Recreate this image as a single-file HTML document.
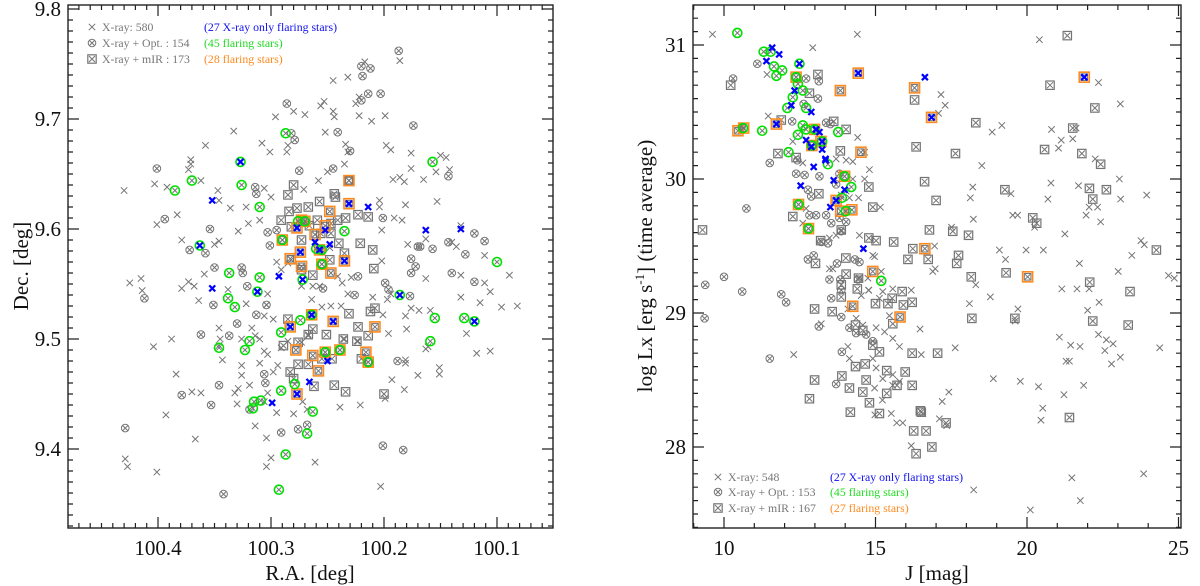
<!DOCTYPE html>
<html><head><meta charset="utf-8"><style>
html,body{margin:0;padding:0;background:#fff;}
svg{display:block;font-family:"Liberation Serif",serif;}
</style></head><body>
<svg id="fig" width="1200" height="586" viewBox="0 0 1200 586" xmlns="http://www.w3.org/2000/svg"></svg>
<script>
// ---------- LEFT PANEL DATA (R.A., Dec) ----------
const leftXray = [[100.245,9.735],[100.232,9.738],[100.217,9.752],[100.186,9.753],[100.253,9.716],[100.256,9.712],[100.222,9.720],[100.225,9.714],[100.296,9.702],[100.280,9.707],[100.270,9.704],[100.245,9.707],[100.244,9.702],[100.222,9.703],[100.211,9.698],[100.199,9.703],[100.333,9.689],[100.252,9.688],[100.308,9.678],[100.358,9.676],[100.301,9.670],[100.286,9.670],[100.285,9.676],[100.234,9.677],[100.232,9.670],[100.198,9.676],[100.194,9.672],[100.176,9.669],[100.371,9.663],[100.371,9.659],[100.373,9.654],[100.362,9.644],[100.403,9.641],[100.392,9.638],[100.430,9.635],[100.347,9.635],[100.346,9.626],[100.336,9.619],[100.322,9.620],[100.306,9.637],[100.300,9.629],[100.271,9.636],[100.258,9.644],[100.250,9.652],[100.235,9.659],[100.192,9.645],[100.186,9.647],[100.182,9.643],[100.176,9.655],[100.165,9.645],[100.154,9.652],[100.142,9.654],[100.150,9.667],[100.145,9.665],[100.153,9.625],[100.181,9.622],[100.204,9.626],[100.204,9.620],[100.191,9.610],[100.184,9.608],[100.202,9.599],[100.132,9.603],[100.401,9.604],[100.383,9.613],[100.320,9.605],[100.310,9.608],[100.329,9.598],[100.379,9.590],[100.346,9.589],[100.350,9.586],[100.359,9.559],[100.373,9.552],[100.368,9.548],[100.379,9.546],[100.425,9.551],[100.415,9.555],[100.414,9.544],[100.364,9.535],[100.338,9.545],[100.322,9.532],[100.303,9.541],[100.304,9.531],[100.298,9.518],[100.306,9.521],[100.346,9.510],[100.345,9.500],[100.346,9.494],[100.326,9.500],[100.317,9.510],[100.314,9.503],[100.310,9.500],[100.388,9.500],[100.404,9.493],[100.343,9.481],[100.326,9.476],[100.326,9.467],[100.319,9.458],[100.332,9.451],[100.329,9.455],[100.384,9.468],[100.370,9.452],[100.362,9.451],[100.393,9.431],[100.367,9.409],[100.429,9.391],[100.427,9.384],[100.401,9.379],[100.330,9.441],[100.314,9.421],[100.304,9.410],[100.300,9.392],[100.304,9.384],[100.295,9.433],[100.280,9.432],[100.272,9.443],[100.268,9.436],[100.261,9.388],[100.303,9.451],[100.294,9.476],[100.298,9.470],[100.310,9.478],[100.306,9.443],[100.203,9.366],[100.239,9.438],[100.221,9.440],[100.199,9.446],[100.182,9.454],[100.193,9.463],[100.170,9.467],[100.151,9.474],[100.151,9.468],[100.181,9.481],[100.181,9.478],[100.163,9.491],[100.161,9.493],[100.196,9.505],[100.180,9.509],[100.181,9.521],[100.127,9.505],[100.118,9.487],[100.106,9.489],[100.115,9.533],[100.106,9.543],[100.096,9.529],[100.082,9.530],[100.089,9.558],[100.111,9.551],[100.111,9.576],[100.132,9.558],[100.132,9.538],[100.136,9.584],[100.140,9.588],[100.163,9.555],[100.163,9.591],[100.179,9.586],[100.202,9.571],[100.201,9.522],[100.210,9.538],[100.197,9.536],[100.194,9.541],[100.176,9.528],[100.169,9.526],[100.159,9.526],[100.232,9.541],[100.238,9.530],[100.247,9.530],[100.241,9.557],[100.229,9.556],[100.237,9.551],[100.273,9.548],[100.263,9.548],[100.257,9.548],[100.264,9.536],[100.255,9.529],[100.248,9.583],[100.295,9.570],[100.291,9.563],[100.285,9.569],[100.303,9.486],[100.306,9.489],[100.291,9.492],[100.285,9.498],[100.273,9.497],[100.267,9.503],[100.235,9.500],[100.223,9.498]];
const leftOpt = [[100.187,9.762],[100.220,9.748],[100.212,9.746],[100.219,9.739],[100.214,9.723],[100.203,9.723],[100.220,9.717],[100.286,9.714],[100.174,9.694],[100.241,9.688],[100.282,9.687],[100.279,9.681],[100.230,9.671],[100.275,9.653],[100.245,9.655],[100.401,9.655],[100.314,9.638],[100.313,9.632],[100.394,9.609],[100.354,9.600],[100.303,9.597],[100.295,9.599],[100.301,9.585],[100.201,9.610],[100.120,9.596],[100.111,9.589],[100.143,9.588],[100.128,9.577],[100.157,9.582],[100.168,9.584],[100.176,9.573],[100.172,9.566],[100.176,9.560],[100.140,9.560],[100.120,9.552],[100.177,9.539],[100.199,9.551],[100.196,9.545],[100.223,9.557],[100.254,9.546],[100.372,9.581],[100.358,9.578],[100.350,9.565],[100.326,9.565],[100.325,9.560],[100.321,9.548],[100.412,9.537],[100.351,9.531],[100.304,9.531],[100.313,9.522],[100.330,9.514],[100.337,9.503],[100.362,9.504],[100.346,9.458],[100.379,9.449],[100.353,9.440],[100.306,9.468],[100.305,9.460],[100.319,9.436],[100.291,9.415],[100.276,9.418],[100.268,9.422],[100.429,9.419],[100.342,9.359],[100.201,9.403],[100.183,9.399],[100.188,9.480],[100.143,9.648],[100.170,9.584],[100.226,9.540]];
const leftMir = [[100.280,9.640],[100.285,9.631],[100.244,9.632],[100.243,9.629],[100.257,9.625],[100.284,9.616],[100.277,9.619],[100.267,9.620],[100.291,9.608],[100.282,9.602],[100.266,9.603],[100.259,9.608],[100.247,9.605],[100.241,9.608],[100.234,9.610],[100.223,9.613],[100.214,9.611],[100.221,9.587],[100.210,9.581],[100.240,9.587],[100.247,9.596],[100.256,9.596],[100.273,9.590],[100.282,9.572],[100.263,9.558],[100.273,9.563],[100.248,9.572],[100.235,9.578],[100.209,9.564],[100.208,9.528],[100.212,9.525],[100.231,9.523],[100.223,9.511],[100.214,9.503],[100.224,9.498],[100.236,9.500],[100.251,9.504],[100.263,9.509],[100.267,9.504],[100.285,9.518],[100.276,9.497],[100.276,9.477],[100.267,9.477],[100.283,9.470],[100.280,9.464],[100.262,9.457],[100.244,9.458],[100.234,9.452],[100.200,9.450],[100.255,9.482],[100.246,9.482],[100.220,9.482],[100.289,9.494],[100.231,9.644]];
const leftFlareBlue = [[100.327,9.661],[100.352,9.626],[100.363,9.585],[100.352,9.546],[100.312,9.543],[100.293,9.557],[100.272,9.554],[100.277,9.601],[100.252,9.599],[100.248,9.586],[100.261,9.588],[100.274,9.579],[100.235,9.571],[100.231,9.623],[100.214,9.620],[100.163,9.599],[100.132,9.600],[100.186,9.540],[100.120,9.516],[100.264,9.522],[100.245,9.516],[100.283,9.511],[100.250,9.480],[100.266,9.461],[100.277,9.450],[100.299,9.442],[100.257,9.581]];
const leftFlareGreen = [[100.287,9.687],[100.327,9.661],[100.370,9.644],[100.385,9.635],[100.326,9.640],[100.310,9.620],[100.157,9.661],[100.276,9.607],[100.270,9.607],[100.290,9.590],[100.235,9.598],[100.260,9.582],[100.255,9.581],[100.255,9.568],[100.272,9.554],[100.337,9.560],[100.310,9.556],[100.338,9.537],[100.332,9.529],[100.100,9.570],[100.155,9.519],[100.129,9.519],[100.120,9.516],[100.274,9.517],[100.291,9.506],[100.319,9.498],[100.346,9.492],[100.323,9.490],[100.252,9.488],[100.239,9.490],[100.214,9.479],[100.159,9.498],[100.279,9.459],[100.291,9.453],[100.309,9.444],[100.315,9.443],[100.316,9.437],[100.263,9.434],[100.268,9.414],[100.287,9.395],[100.293,9.363],[100.186,9.540],[100.363,9.585],[100.312,9.543],[100.264,9.522]];
const leftFlareOrange = [[100.231,9.644],[100.248,9.616],[100.273,9.608],[100.252,9.603],[100.277,9.601],[100.261,9.595],[100.290,9.590],[100.274,9.579],[100.283,9.573],[100.273,9.566],[100.247,9.560],[100.283,9.511],[100.245,9.516],[100.208,9.511],[100.278,9.490],[100.263,9.485],[100.252,9.488],[100.239,9.490],[100.216,9.488],[100.214,9.479],[100.258,9.471],[100.277,9.450],[100.264,9.522],[100.235,9.571],[100.257,9.581],[100.231,9.623],[100.270,9.607],[100.255,9.568]];
const leftXTicks = [100.4,100.3,100.2,100.1];
const leftXTickLabels = ["100.4","100.3","100.2","100.1"];
const leftYTicks = [9.4,9.5,9.6,9.7,9.8];
const leftYTickLabels = ["9.4","9.5","9.6","9.7","9.8"];

// ---------- RIGHT PANEL DATA (J, log Lx) ----------
const rightXray = [[9.62,31.08],[14.40,31.08],[12.93,30.98],[20.41,31.04],[22.36,30.72],[23.08,30.56],[17.16,30.63],[17.30,30.55],[17.08,30.49],[11.42,30.78],[11.46,30.47],[14.41,30.31],[18.85,30.35],[19.17,30.40],[20.81,30.37],[21.13,30.29],[21.04,30.23],[21.51,30.30],[21.62,30.38],[22.25,30.15],[18.51,30.10],[14.80,30.07],[14.64,30.00],[23.05,30.00],[20.79,29.97],[21.70,29.95],[18.21,29.94],[19.47,29.89],[23.95,29.88],[18.13,29.86],[20.69,29.85],[23.09,29.85],[22.05,29.79],[21.95,29.73],[22.33,29.79],[19.53,29.73],[19.69,29.73],[18.23,29.70],[22.43,29.68],[15.16,29.79],[20.25,29.64],[21.25,29.59],[17.51,29.64],[16.95,29.50],[19.09,29.47],[19.97,29.47],[20.54,29.47],[19.29,29.40],[23.76,29.54],[23.87,29.51],[23.46,29.43],[21.73,29.37],[23.01,29.31],[24.67,29.28],[24.86,29.26],[16.89,29.31],[16.97,29.33],[15.19,29.31],[18.31,29.21],[18.79,29.12],[21.15,29.18],[21.65,29.18],[22.05,29.18],[22.38,29.08],[22.00,29.02],[19.70,29.03],[19.61,28.94],[18.10,29.07],[16.18,29.17],[15.57,29.18],[14.78,29.17],[16.47,28.88],[21.07,28.82],[21.44,28.76],[21.75,28.75],[22.36,28.84],[22.62,28.80],[22.84,28.77],[22.57,28.72],[23.08,28.67],[22.79,28.62],[24.38,28.74],[21.29,28.64],[21.40,28.64],[17.63,28.74],[16.51,28.69],[18.89,28.51],[19.78,28.49],[20.38,28.45],[21.22,28.39],[21.87,28.46],[17.42,28.41],[17.20,28.34],[20.52,28.29],[20.46,28.20],[17.11,28.21],[17.35,28.16],[15.90,28.18],[15.70,28.18],[15.52,28.25],[14.98,28.24],[16.18,28.01],[16.56,28.25],[21.48,27.77],[23.85,27.80],[18.24,27.68],[21.76,27.60],[20.11,27.53],[12.30,28.69],[15.23,28.35],[15.57,28.46],[13.70,30.15],[14.03,30.14],[14.25,30.00],[14.14,29.86],[14.44,29.86],[14.47,29.58],[14.91,29.43],[14.97,29.42],[13.48,29.33],[14.47,29.26],[14.75,29.26],[14.77,29.17],[15.24,29.16],[15.46,28.98],[14.58,28.91],[15.02,28.89],[15.30,28.86],[15.57,28.81],[15.79,28.75],[14.91,28.66],[15.02,28.59],[15.24,28.51],[14.97,28.44],[15.57,28.54],[15.79,28.49],[14.09,28.75],[14.14,28.66],[13.21,28.92],[12.27,30.28],[12.60,30.12],[14.25,30.13],[14.64,30.20],[14.03,29.91],[13.87,29.88],[12.71,29.78],[12.60,29.67],[13.70,29.58],[13.48,29.56],[13.59,29.33],[15.13,29.11],[14.09,29.03],[14.53,29.13],[14.36,28.96]];
const rightOpt = [[11.10,30.86],[10.30,30.75],[13.13,30.73],[12.71,30.75],[13.10,30.60],[12.63,30.56],[12.25,30.43],[10.58,30.39],[11.51,30.12],[12.38,30.04],[12.66,30.03],[12.88,29.87],[12.77,29.92],[10.74,29.78],[13.51,30.41],[13.37,30.42],[12.42,30.14],[13.81,30.04],[13.70,29.96],[13.15,30.02],[13.37,29.73],[13.04,29.73],[12.82,29.73],[13.54,29.67],[13.81,29.71],[14.03,29.68],[13.87,29.61],[13.21,29.53],[13.43,29.52],[12.77,29.40],[12.96,29.43],[13.73,29.37],[13.48,29.25],[14.32,29.40],[14.47,29.38],[13.84,29.25],[13.54,29.11],[13.87,29.17],[14.42,29.25],[11.89,29.14],[12.05,29.08],[10.60,29.16],[10.00,29.27],[9.38,29.21],[9.36,28.96],[13.13,28.90],[13.87,28.97],[13.89,28.71],[13.70,28.47],[14.91,28.79],[14.14,28.89],[14.36,28.85],[14.69,28.84],[11.51,28.66]];
const rightMir = [[10.22,30.70],[13.10,30.78],[12.82,30.64],[11.89,30.44],[13.62,30.43],[14.03,30.37],[11.78,30.19],[13.84,30.21],[12.38,30.16],[14.78,29.94],[13.13,29.89],[14.91,29.79],[12.27,29.72],[13.87,29.62],[13.19,29.54],[14.78,29.56],[15.02,29.54],[15.60,29.53],[14.02,29.41],[13.02,29.37],[14.03,29.29],[14.44,29.26],[13.87,29.21],[13.87,29.12],[14.40,29.18],[15.88,29.16],[15.55,29.11],[15.92,29.06],[16.21,29.08],[15.00,29.07],[15.41,29.07],[13.57,29.01],[12.99,29.03],[15.57,28.92],[14.34,28.91],[14.58,28.87],[14.91,28.76],[15.13,28.71],[16.21,28.70],[17.05,28.70],[14.34,28.60],[14.66,28.62],[15.37,28.57],[15.98,28.56],[13.89,28.53],[12.99,28.50],[14.14,28.44],[14.58,28.41],[14.69,28.50],[15.37,28.40],[15.71,28.46],[16.21,28.46],[14.80,28.33],[14.17,28.26],[15.13,28.25],[16.48,28.27],[16.26,28.12],[16.67,28.12],[16.34,27.95],[16.86,28.00],[17.33,28.18],[12.82,28.36],[9.29,29.62],[16.29,30.59],[16.34,30.24],[16.62,29.98],[17.00,29.84],[16.78,29.62],[17.55,29.61],[18.07,29.58],[16.23,29.48],[16.07,29.40],[16.74,29.40],[17.74,29.43],[17.68,29.37],[17.64,30.19],[18.31,30.42],[18.16,29.27],[19.31,29.30],[18.18,28.96],[19.60,28.96],[19.27,29.92],[20.19,29.71],[20.32,29.67],[20.76,30.70],[21.33,31.07],[22.24,30.53],[21.51,30.38],[20.58,30.22],[21.81,30.19],[22.43,30.11],[22.06,29.93],[22.62,29.92],[22.17,29.85],[24.27,29.47],[22.07,29.23],[23.40,29.16],[22.17,28.94],[23.34,28.91],[21.40,28.22],[16.51,28.26]];
const rightFlareBlue = [[11.59,30.98],[11.40,30.88],[11.82,30.93],[12.49,30.86],[14.43,30.79],[16.63,30.76],[16.85,30.46],[21.89,30.76],[11.73,30.41],[12.22,30.55],[12.88,30.50],[12.33,30.66],[13.04,30.37],[13.15,30.35],[12.71,30.29],[13.24,30.28],[13.35,30.15],[12.96,30.09],[13.24,30.22],[13.62,29.99],[12.53,29.95],[13.98,29.92],[13.70,29.84],[13.51,29.79],[14.60,29.48],[13.35,30.14],[12.88,30.24]];
const rightFlareGreen = [[10.44,31.09],[11.31,30.95],[11.54,30.95],[11.65,30.84],[11.92,30.81],[11.73,30.77],[12.49,30.86],[12.38,30.76],[12.44,30.71],[12.60,30.66],[12.27,30.61],[12.09,30.53],[12.71,30.53],[10.63,30.38],[11.26,30.36],[12.60,30.40],[12.44,30.33],[12.71,30.37],[13.77,30.35],[13.24,30.28],[12.90,30.25],[12.13,30.20],[13.43,30.11],[13.98,30.02],[14.20,29.94],[13.89,29.86],[14.02,29.76],[12.46,29.81],[12.79,29.63],[15.19,29.24],[12.99,30.37]];
const rightFlareOrange = [[10.46,30.36],[10.65,30.38],[11.73,30.41],[12.38,30.76],[12.99,30.37],[13.20,30.28],[12.90,30.25],[13.84,30.66],[14.43,30.79],[16.29,30.68],[16.85,30.46],[21.89,30.76],[14.52,30.20],[13.98,30.02],[12.46,29.81],[13.70,29.84],[13.85,29.76],[14.22,29.77],[16.63,29.48],[14.91,29.31],[20.02,29.27],[14.25,29.05],[15.81,28.97],[12.79,29.63]];
const rightXTicks = [10,15,20,25];
const rightXTickLabels = ["10","15","20","25"];
const rightYTicks = [28,29,30,31];
const rightYTickLabels = ["28","29","30","31"];

const NS = "http://www.w3.org/2000/svg";
const svg = document.getElementById('fig');
const GRAY = "#747474";
function mk(tag, attrs, parent){
  const e = document.createElementNS(NS, tag);
  for (const k in attrs) e.setAttribute(k, attrs[k]);
  (parent||svg).appendChild(e);
  return e;
}
const L = {x0:68,x1:553,y0:5,y1:528};
const R = {x0:693,x1:1181,y0:5,y1:528};
function xL(ra){ return 158 + (100.4 - ra) * 1130; }
function yL(d){ return 449 - (d - 9.4) * 1100; }
function xR(j){ return 724 + (j - 10) * 30.3; }
function yR(l){ return 447 - (l - 28) * 134; }

function crossPath(x,y,r){ return `M${x-r},${y-r}L${x+r},${y+r}M${x-r},${y+r}L${x+r},${y-r}`; }
function drawX(g,x,y){
  const p = mk('path',{d:crossPath(x,y,3.2),stroke:GRAY,'stroke-width':1,fill:'none'},g);
  
  
}
function drawO(g,x,y){
  const c = mk('circle',{cx:x,cy:y,r:3.8,stroke:GRAY,'stroke-width':1,fill:'none'},g);
  
  
  mk('path',{d:crossPath(x,y,2.5),stroke:GRAY,'stroke-width':1,fill:'none'},g);
}
function drawS(g,x,y){
  const r = mk('rect',{x:x-4.2,y:y-4.2,width:8.4,height:8.4,stroke:GRAY,'stroke-width':1.2,fill:'none'},g);
  
  
  mk('path',{d:crossPath(x,y,3),stroke:GRAY,'stroke-width':1,fill:'none'},g);
}
function drawBlue(g,x,y){
  const p = mk('path',{d:crossPath(x,y,3),stroke:'#0000ff','stroke-width':2.2,fill:'none'},g);
  
  
}
function drawGreen(g,x,y){
  const c = mk('circle',{cx:x,cy:y,r:4.5,stroke:'#00e000','stroke-width':1.6,fill:'none'},g);
  
  
  mk('path',{d:crossPath(x,y,2.4),stroke:GRAY,'stroke-width':1,fill:'none'},g);
}
function drawOrange(g,x,y){
  const r = mk('rect',{x:x-5,y:y-5,width:10,height:10,stroke:'#ff8a1e','stroke-width':1.6,fill:'none'},g);
  
  
  mk('rect',{x:x-3.3,y:y-3.3,width:6.6,height:6.6,stroke:GRAY,'stroke-width':1,fill:'none'},g);
  mk('path',{d:crossPath(x,y,2.6),stroke:GRAY,'stroke-width':1,fill:'none'},g);
}

function axes(P, name, xTicks, xTickLabels, xMinor, yTicks, yTickLabels, yMinor, fx, fy){
  const g = mk('g',{});
  
  
  let d = '';
  xMinor.forEach(v=>{ const x=fx(v); if(x>P.x0+0.5&&x<P.x1-0.5){ d+=`M${x},${P.y1}v-5M${x},${P.y0}v5`; }});
  xTicks.forEach(v=>{ const x=fx(v); d+=`M${x},${P.y1}v-11M${x},${P.y0}v11`; });
  yMinor.forEach(v=>{ const y=fy(v); if(y>P.y0+0.5&&y<P.y1-0.5){ d+=`M${P.x0},${y}h5M${P.x1},${y}h-5`; }});
  yTicks.forEach(v=>{ const y=fy(v); d+=`M${P.x0},${y}h11M${P.x1},${y}h-11`; });
  mk('path',{d:d,stroke:'#222','stroke-width':1.2,fill:'none'},g);
  const box = mk('rect',{x:P.x0,y:P.y0,width:P.x1-P.x0,height:P.y1-P.y0,fill:'none',stroke:'#222','stroke-width':1.4},g);
  
  
  xTicks.forEach((v,i)=>{
    const t = mk('text',{x:fx(v),y:P.y1+27,'text-anchor':'middle','font-size':21,fill:'#111'},g);
    t.textContent = xTickLabels[i];
    
    
  });
  yTicks.forEach((v,i)=>{
    const t = mk('text',{x:P.x0-7,y:fy(v)+7,'text-anchor':'end','font-size':21,fill:'#111'},g);
    t.textContent = yTickLabels[i];
    
    
  });
}
function range(a,b,s){ const r=[]; for(let v=a; v<=b+1e-9; v+=s) r.push(+v.toFixed(4)); return r; }

axes(L,'left',leftXTicks,leftXTickLabels,range(100.04,100.49,0.01),leftYTicks,leftYTickLabels,range(9.33,9.81,0.01),xL,yL);
const gl = mk('g',{});


leftXray.forEach(p=>drawX(gl,xL(p[0]),yL(p[1])));
leftOpt.forEach(p=>drawO(gl,xL(p[0]),yL(p[1])));
leftMir.forEach(p=>drawS(gl,xL(p[0]),yL(p[1])));
leftFlareOrange.forEach(p=>drawOrange(gl,xL(p[0]),yL(p[1])));
leftFlareGreen.forEach(p=>drawGreen(gl,xL(p[0]),yL(p[1])));
leftFlareBlue.forEach(p=>drawBlue(gl,xL(p[0]),yL(p[1])));

axes(R,'right',rightXTicks,rightXTickLabels,range(9,25,1),rightYTicks,rightYTickLabels,range(27.4,31.2,0.1),xR,yR);
const gr = mk('g',{});


rightXray.forEach(p=>drawX(gr,xR(p[0]),yR(p[1])));
rightOpt.forEach(p=>drawO(gr,xR(p[0]),yR(p[1])));
rightMir.forEach(p=>drawS(gr,xR(p[0]),yR(p[1])));
rightFlareOrange.forEach(p=>drawOrange(gr,xR(p[0]),yR(p[1])));
rightFlareGreen.forEach(p=>drawGreen(gr,xR(p[0]),yR(p[1])));
rightFlareBlue.forEach(p=>drawBlue(gr,xR(p[0]),yR(p[1])));

let t;
t = mk('text',{x:310,y:580,'text-anchor':'middle','font-size':21,fill:'#111'});
t.textContent = 'R.A. [deg]';


t = mk('text',{x:0,y:0,'text-anchor':'middle','font-size':21,fill:'#111',transform:'translate(28,266) rotate(-90)'});
t.textContent = 'Dec. [deg]';


t = mk('text',{x:937,y:580,'text-anchor':'middle','font-size':21,fill:'#111'});
t.textContent = 'J [mag]';


t = mk('text',{x:0,y:0,'text-anchor':'middle','font-size':21,fill:'#111',transform:'translate(652,266) rotate(-90)'});
t.innerHTML = 'log Lx [erg s<tspan dy="-8" font-size="13">-1</tspan><tspan dy="8">] (time average)</tspan>';



function legend(name, mx, tx, cx, ys, labels, flareLabels){
  const g = mk('g',{});
  
  
  drawX(g,mx,ys[0]); drawO(g,mx,ys[1]); drawS(g,mx,ys[2]);
  const cols = ['#1010ee','#22dd22','#ff8a1e'];
  labels.forEach((s,i)=>{
    const a = mk('text',{x:tx,y:ys[i]+4,'font-size':11.8,fill:'#777'},g);
    a.textContent = s;
    
    
    const b = mk('text',{x:cx,y:ys[i]+4,'font-size':11.8,fill:cols[i]},g);
    b.textContent = flareLabels[i];
    
    
  });
}
legend('left-legend',92,102,204,[27,43,59],['X-ray: 580','X-ray + Opt. : 154','X-ray + mIR : 173'],['(27 X-ray only flaring stars)','(45 flaring stars)','(28 flaring stars)']);
legend('right-legend',718,728,830,[477,492,508],['X-ray: 548','X-ray + Opt. : 153','X-ray + mIR : 167'],['(27 X-ray only flaring stars)','(45 flaring stars)','(27 flaring stars)']);
</script>
</body></html>
